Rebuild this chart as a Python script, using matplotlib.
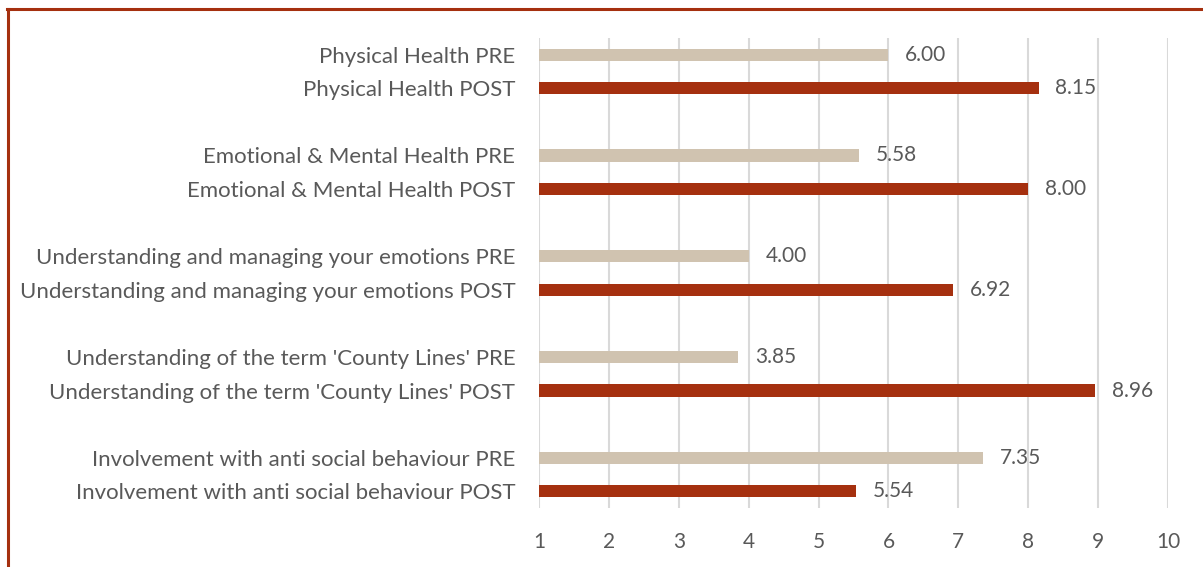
import numpy as np
import matplotlib.pyplot as plt
from matplotlib.lines import Line2D

# categories, top to bottom (blank slots separate the groups)
labels = [
    "Physical Health PRE",
    "Physical Health POST",
    "",
    "Emotional & Mental Health PRE",
    "Emotional & Mental Health POST",
    "",
    "Understanding and managing your emotions PRE",
    "Understanding and managing your emotions POST",
    "",
    "Understanding of the term 'County Lines' PRE",
    "Understanding of the term 'County Lines' POST",
    "",
    "Involvement with anti social behaviour PRE",
    "Involvement with anti social behaviour POST",
]
values = [6.00, 8.15, None, 5.58, 8.00, None, 4.00, 6.92, None,
          3.85, 8.96, None, 7.35, 5.54]
x_ticks = list(range(1, 11))

PRE_COLOR = "#D0C3B0"
POST_COLOR = "#A5300F"
TEXT = "#595959"

plt.rcParams['font.family'] = ['Lato', 'DejaVu Sans']

fig = plt.figure(figsize=(12.03, 5.67), dpi=100)
ax = fig.add_axes([0.448, 0.104, 0.523, 0.829])

n = len(labels)
ypos = np.arange(n)
for y, lab, v in zip(ypos, labels, values):
    if v is None:
        continue
    color = PRE_COLOR if lab.endswith("PRE") else POST_COLOR
    ax.barh(y, v - 1, left=1, height=0.36, color=color, zorder=3)
    ax.annotate(f"{v:.2f}", xy=(v, y), xytext=(12, 0), textcoords="offset points",
                va="center", ha="left", fontsize=15, color=TEXT)

ax.set_xlim(1, 10.0)
ax.set_ylim(n - 0.5, -0.5)
ax.set_xticks(x_ticks)
ax.set_xticklabels([str(t) for t in x_ticks], fontsize=15, color=TEXT)
ax.set_yticks(ypos)
ax.set_yticklabels(labels, fontsize=16, color=TEXT)
ax.tick_params(axis="x", length=0, pad=17)
ax.tick_params(axis="y", length=0, pad=17)
ax.xaxis.grid(True, color="#D9D9D9", linewidth=1.5, zorder=0)
for s in ax.spines.values():
    s.set_visible(False)

# chart border (left and top edges visible)
fig.add_artist(Line2D([0.0065, 0.0065], [0.0, 0.985], transform=fig.transFigure,
                      color=POST_COLOR, linewidth=2.2))
fig.add_artist(Line2D([0.0058, 1.0], [0.985, 0.985], transform=fig.transFigure,
                      color=POST_COLOR, linewidth=2.2))

fig.savefig("out.png", dpi=100)
